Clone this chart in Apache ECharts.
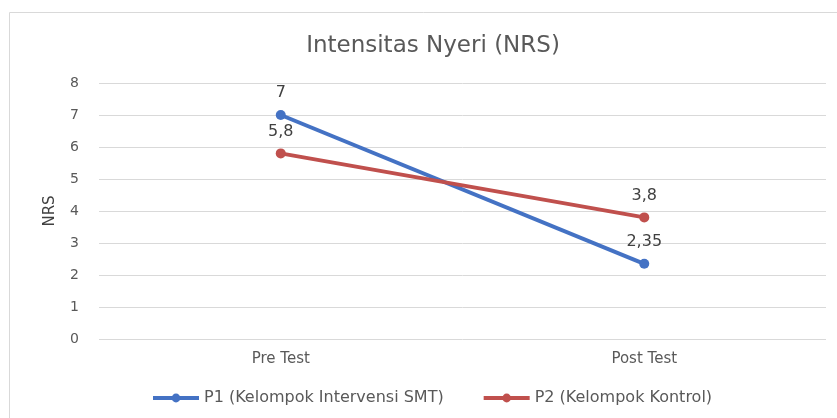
<!DOCTYPE html>
<html>
<head>
<meta charset="utf-8">
<script src="https://cdn.jsdelivr.net/npm/echarts@6/dist/echarts.min.js"></script>
<style>
  html, body { margin: 0; padding: 0; background: #fff; }
  #chart { width: 837px; height: 418px; }
</style>
</head>
<body>
<div id="chart"></div>
<script>
// data
var categories = ['Pre Test', 'Post Test'];
var p1Values = [7, 2.35];
var p2Values = [5.8, 3.8];
var seriesNames = ['P1 (Kelompok Intervensi SMT)', 'P2 (Kelompok Kontrol)'];

var fontName = '"DejaVu Sans", "Noto Sans", sans-serif';

function commaLabel(p) {
  return String(p.value).replace('.', ',');
}

var myChart = echarts.init(document.getElementById('chart'), null, {
  renderer: 'canvas'
});

var option = {
  animation: false,
  textStyle: { fontFamily: fontName },
  graphic: [{
    type: 'rect',
    shape: { x: 9.5, y: 12.5, width: 900, height: 500 },
    style: { fill: 'none', stroke: '#d9d9d9', lineWidth: 1 },
    silent: true
  }],
  title: {
    text: 'Intensitas Nyeri (NRS)',
    left: 428,
    textAlign: 'center',
    top: 30,
    textStyle: { fontFamily: fontName, fontSize: 23, fontWeight: 'normal', color: '#595959' }
  },
  legend: {
    data: seriesNames,
    bottom: 7,
    left: 146,
    itemWidth: 46,
    itemHeight: 11,
    itemGap: 38,
    lineStyle: { width: 4 },
    textStyle: { fontFamily: fontName, fontSize: 16, color: '#595959' }
  },
  grid: {
    left: 99,
    right: 11,
    top: 83,
    bottom: 79
  },
  xAxis: {
    type: 'category',
    data: categories,
    boundaryGap: true,
    axisLine: { show: false },
    axisTick: { show: false },
    axisLabel: { fontFamily: fontName, fontSize: 15, color: '#595959', margin: 13 }
  },
  yAxis: {
    type: 'value',
    min: 0,
    max: 8,
    interval: 1,
    name: 'NRS',
    nameLocation: 'middle',
    nameGap: 41,
    nameTextStyle: { fontFamily: fontName, fontSize: 15, color: '#404040' },
    axisLine: { show: false },
    axisTick: { show: false },
    axisLabel: { fontFamily: fontName, fontSize: 14, color: '#595959', margin: 20 },
    splitLine: { lineStyle: { color: '#d9d9d9', width: 1 } }
  },
  series: [{
    name: seriesNames[0],
    type: 'line',
    data: p1Values,
    symbol: 'circle',
    symbolSize: 10,
    color: '#4472C4',
    lineStyle: { width: 4, color: '#4472C4' },
    label: {
      show: true,
      position: 'top',
      distance: 9,
      formatter: commaLabel,
      fontFamily: fontName,
      fontSize: 16,
      color: '#404040'
    }
  }, {
    name: seriesNames[1],
    type: 'line',
    data: p2Values,
    symbol: 'circle',
    symbolSize: 10,
    color: '#C0504D',
    lineStyle: { width: 4, color: '#C0504D' },
    label: {
      show: true,
      position: 'top',
      distance: 9,
      formatter: commaLabel,
      fontFamily: fontName,
      fontSize: 16,
      color: '#404040'
    }
  }]
};

myChart.setOption(option);
window.addEventListener('resize', myChart.resize);
</script>
</body>
</html>
